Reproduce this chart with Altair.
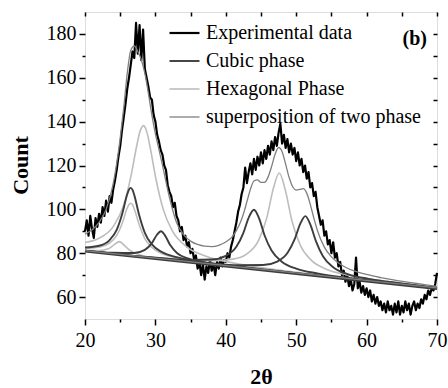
import altair as alt
import pandas as pd

SERIF = "Liberation Serif"
SERIES = ["Experimental data", "Cubic phase", "Hexagonal Phase", "superposition of two phase"]
COLORS = ["#000000", "#3d3d3d", "#bdbdbd", "#7f7f7f"]
WIDTHS = [2.2, 1.3, 2.0, 2.0]

# Experimental data, 2theta from 20 to 70 every 0.25
exp_y = [
    90, 95, 88, 97, 91, 87, 96, 92, 98, 94, 101, 97, 104, 99, 106, 103,
    109, 113, 118, 124, 129, 136, 142, 148, 155, 160, 166, 172, 169, 185, 171, 184,
    168, 182, 164, 160, 156, 151, 150, 143, 140, 134, 131, 127, 125, 120, 118, 111,
    108, 106, 101, 103, 97, 95, 90, 92, 86, 88, 83, 85, 80, 82, 77, 79,
    73, 76, 70, 75, 68, 74, 71, 77, 72, 75, 70, 76, 73, 78, 74, 77,
    76, 80, 78, 83, 86, 90, 94, 99, 102, 107, 110, 119, 112, 117, 121, 116,
    123, 118, 124, 120, 126, 121, 127, 123, 129, 125, 131, 127, 133, 129, 135, 139,
    130, 134, 128, 132, 126, 130, 125, 128, 122, 126, 120, 123, 117, 120, 114, 117,
    110, 112, 106, 108, 101, 97, 93, 95, 88, 90, 84, 86, 80, 85, 78, 80,
    74, 76, 70, 72, 67, 70, 65, 68, 63, 66, 78, 64, 67, 62, 65, 61,
    64, 60, 63, 58, 61, 57, 60, 56, 58, 54, 57, 53, 58, 54, 56, 52,
    57, 53, 58, 52, 56, 53, 58, 54, 57, 52, 56, 58, 54, 57, 55, 59,
    57, 61, 59, 63, 61, 64, 63, 66, 71,
]
exp_x = [20 + 0.25 * i for i in range(len(exp_y))]

# Cubic phase peaks (each includes the background line)
c1_x = [20, 22, 23.5, 24.5, 25.3, 26, 26.25, 26.5, 26.75, 27, 27.7, 28.5, 29.5, 31, 33, 36, 40, 45, 50, 60, 70]
c1_y = [82.6, 83.4, 86.0, 90.6, 98.1, 106.9, 109.0, 109.8, 108.9, 106.5, 97.3, 89.3, 84.0, 80.4, 78.2, 76.3, 74.6, 72.7, 70.9, 67.5, 64.0]
c2_x = [20, 24, 27, 28.5, 29.5, 30.2, 30.8, 31.4, 32.1, 33.1, 34.6, 37, 41, 47, 55, 70]
c2_y = [81.2, 80.2, 80.1, 81.5, 84.6, 88.3, 90.0, 87.9, 83.7, 80.0, 77.6, 75.8, 74.1, 71.9, 69.1, 64.0]
c3_x = [20, 30, 35, 38, 40, 41.5, 42.5, 43.3, 44, 44.7, 45.5, 46.5, 48, 50, 53, 58, 64, 70]
c3_y = [81.2, 78.0, 76.9, 77.1, 78.8, 82.9, 89.3, 96.6, 99.8, 96.1, 88.2, 81.2, 76.0, 73.0, 70.8, 68.5, 66.3, 64.1]
c4_x = [20, 35, 42, 45.3, 47.3, 48.8, 49.8, 50.6, 51.3, 52.0, 52.8, 53.8, 55.3, 57.3, 60.3, 65, 70]
c4_y = [81.1, 76.2, 74.5, 74.6, 76.2, 80.3, 86.5, 93.6, 96.9, 93.1, 85.5, 78.6, 73.5, 70.5, 68.3, 66.2, 64.2]
cb_x = [20, 70]
cb_y = [80.7, 63.7]

# Hexagonal phase peaks
h1_x = [20, 22, 23.3, 24.1, 24.9, 25.7, 26.5, 28, 31, 36, 45, 70]
h1_y = [81.3, 81.2, 82.0, 83.8, 85.3, 83.2, 81.0, 79.1, 77.5, 75.6, 72.5, 64.0]
h2_x = c1_x
h2_y = [82.2, 82.7, 84.6, 88.1, 93.8, 100.6, 102.2, 102.8, 102.1, 100.2, 93.0, 86.7, 82.6, 79.7, 77.8, 76.1, 74.5, 72.7, 70.9, 67.5, 64.0]
h3_x = [20, 22, 24, 25.5, 26.5, 27.3, 27.8, 28.3, 28.8, 29.3, 30.1, 31.1, 32.5, 34.5, 37, 41, 47, 55, 70]
h3_y = [84.9, 86.8, 92.1, 102.0, 114.7, 128.2, 135.4, 138.2, 135.1, 127.5, 113.5, 100.1, 89.7, 82.8, 78.8, 75.6, 72.6, 69.5, 64.2]
h4_x = [20, 33, 38, 41, 43, 44.6, 45.8, 46.8, 47.6, 48.4, 49.4, 50.6, 52.2, 54.2, 57.2, 62, 70]
h4_y = [81.2, 77.3, 76.6, 77.3, 79.7, 85.5, 95.9, 110.1, 116.6, 109.5, 94.7, 83.5, 76.6, 72.8, 70.1, 67.5, 64.3]

# Superposition of the two phases
s_x = [20, 21, 22, 23, 24, 24.5, 25, 25.5, 26, 26.5, 27, 27.5, 28, 28.5, 29, 29.5, 30, 30.5, 31,
       32, 33, 34, 35, 36, 37, 38, 39, 40, 41, 42, 42.5, 43, 43.5, 44, 44.5, 45, 45.5, 46, 46.5,
       47, 47.5, 48, 48.5, 49, 49.5, 50, 50.5, 51, 51.5, 52, 52.5, 53, 54, 55, 56, 57, 58, 60,
       62, 64, 66, 68, 70]
s_y = [88.7, 90.7, 94.1, 100.0, 111.6, 120.9, 132.5, 146.3, 162.0, 172.5, 174.5, 172.0, 168.2,
       162.1, 153.0, 143.0, 134.4, 127.4, 120.2, 105.4, 94.0, 88.5, 85.5, 84.0, 83.2, 83.0, 83.6,
       85.1, 87.8, 93.5, 97.9, 103.5, 109.2, 112.9, 113.4, 112.3, 112.3, 114.7, 119.5, 125.1,
       128.2, 126.3, 120.6, 114.5, 110.3, 108.8, 109.1, 109.5, 107.4, 102.3, 96.1, 90.5, 82.8,
       78.3, 75.5, 73.6, 72.2, 70.3, 68.9, 67.7, 66.7, 65.8, 64.9]
sb_x = [20, 70]
sb_y = [81.2, 64.2]


def frame(series, curves):
    rows = []
    for name, xs, ys in curves:
        for x, y in zip(xs, ys):
            rows.append({"x": x, "y": y, "series": series, "curve": name})
    return pd.DataFrame(rows)


df_exp = frame(SERIES[0], [("exp", exp_x, exp_y)])
df_cub = frame(SERIES[1], [("c1", c1_x, c1_y), ("c2", c2_x, c2_y), ("c3", c3_x, c3_y),
                           ("c4", c4_x, c4_y), ("cb", cb_x, cb_y)])
df_hex = frame(SERIES[2], [("h1", h1_x, h1_y), ("h2", h2_x, h2_y), ("h3", h3_x, h3_y),
                           ("h4", h4_x, h4_y)])
df_sup = frame(SERIES[3], [("s", s_x, s_y), ("sb", sb_x, sb_y)])

xscale = alt.Scale(domain=[20, 70], nice=False, zero=False)
yscale = alt.Scale(domain=[50, 190], nice=False, zero=False)

legend = alt.Legend(
    title=None, orient="none", legendX=83, legendY=7, symbolType="stroke",
    symbolSize=900, labelFont=SERIF, labelFontSize=20, labelColor="black",
    labelOffset=5, labelLimit=400, rowPadding=0, clipHeight=28, padding=0, symbolOpacity=1,
)
color = alt.Color("series:N", scale=alt.Scale(domain=SERIES, range=COLORS), legend=legend)
width = alt.StrokeWidth("series:N", scale=alt.Scale(domain=SERIES, range=WIDTHS), legend=legend)

common = dict(domain=False, grid=False, tickColor="black", tickWidth=1.5)
ax_bottom = alt.Axis(orient="bottom", values=[20, 30, 40, 50, 60, 70], tickSize=6,
                     labelFont=SERIF, labelFontSize=20, labelColor="black", labelPadding=5,
                     labelFlush=False, format="d", title="2θ", titleFont=SERIF,
                     titleFontSize=22, titleFontWeight="bold", titleColor="black",
                     titleY=64, titleBaseline="alphabetic", **common)
ax_bottom_minor = alt.Axis(orient="bottom", values=[25, 35, 45, 55, 65], tickSize=3,
                           labels=False, title=None, **common)
ax_top = alt.Axis(orient="top", values=[20, 25, 30, 35, 40, 45, 50, 55, 60, 65, 70],
                  tickSize=4, offset=-4, labels=False, title=None, **common)
ax_left = alt.Axis(orient="left", values=[60, 80, 100, 120, 140, 160, 180], tickSize=6,
                   labelFont=SERIF, labelFontSize=20, labelColor="black", labelPadding=3,
                   labelFlush=False, format="d", title="Count", titleFont=SERIF,
                   titleFontSize=22, titleFontWeight="bold", titleColor="black",
                   titleAngle=270, titleX=-58, titleY=153, titleAlign="center",
                   titleBaseline="alphabetic", **common)
ax_left_minor = alt.Axis(orient="left", values=[70, 90, 110, 130, 150, 170], tickSize=3,
                         labels=False, title=None, **common)
ax_right = alt.Axis(orient="right", values=[60, 70, 80, 90, 100, 110, 120, 130, 140, 150, 160, 170, 180],
                    tickSize=4, offset=-4, labels=False, title=None, **common)

exp_layer = alt.Chart(df_exp).mark_line(strokeJoin="round").encode(
    x=alt.X("x:Q", scale=xscale, axis=ax_bottom),
    y=alt.Y("y:Q", scale=yscale, axis=ax_left),
    color=color, strokeWidth=width, order="x:Q",
)
hex_layer = alt.Chart(df_hex).mark_line(interpolate="monotone").encode(
    x=alt.X("x:Q", scale=xscale, axis=ax_bottom_minor),
    y=alt.Y("y:Q", scale=yscale, axis=ax_left_minor),
    color=color, strokeWidth=width, detail="curve:N", order="x:Q",
)
cub_layer = alt.Chart(df_cub).mark_line(interpolate="monotone").encode(
    x=alt.X("x:Q", scale=xscale, axis=ax_top),
    y=alt.Y("y:Q", scale=yscale, axis=ax_right),
    color=color, strokeWidth=width, detail="curve:N", order="x:Q",
)
sup_layer = alt.Chart(df_sup).mark_line(interpolate="monotone").encode(
    x=alt.X("x:Q", scale=xscale, axis=None),
    y=alt.Y("y:Q", scale=yscale, axis=None),
    color=color, strokeWidth=width, detail="curve:N", order="x:Q",
)

chart = alt.layer(exp_layer, hex_layer, cub_layer, sup_layer).resolve_axis(
    x="independent", y="independent"
).properties(
    width=352, height=307,
    autosize=alt.AutoSizeParams(type="none"),
    padding={"left": 85, "top": 12, "right": 11, "bottom": 69},
    title=alt.TitleParams("(b)", anchor="end", orient="top", frame="group", font=SERIF,
                          fontSize=20, fontWeight="bold", color="black", dx=-10, dy=48,
                          offset=0, baseline="middle"),
).configure_view(stroke="black", strokeWidth=1.5).configure(
    background="white", font=SERIF
).configure_axis(labelFont=SERIF, titleFont=SERIF).configure_legend(labelFont=SERIF)

chart.save("out.html", embed_options={"renderer": "svg", "actions": False})
